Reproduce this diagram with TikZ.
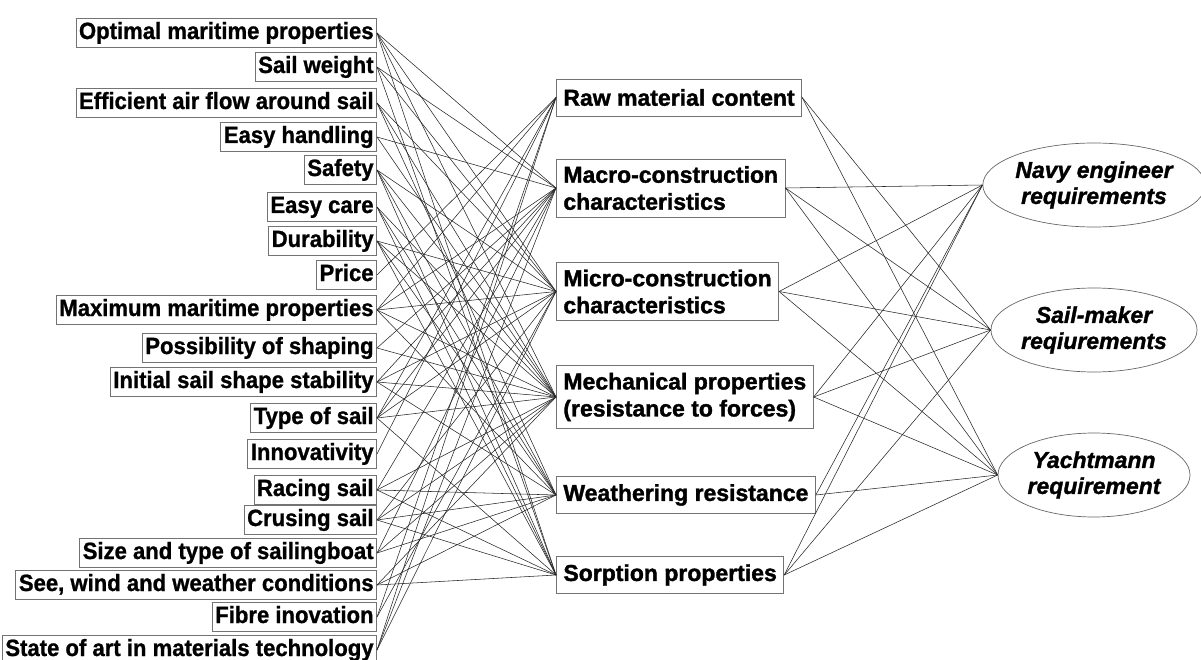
\documentclass[tikz,border=0pt]{standalone}
\usepackage{fontspec}
\setmainfont{Liberation Sans}
\newfontfamily\leftfont{Liberation Sans Bold}[FakeBold=1.0, FakeStretch=0.94]
\newfontfamily\midfont{Liberation Sans Bold}[FakeBold=1.5]
\newfontfamily\rightfont{Liberation Sans Bold Italic}[FakeBold=1.3]
\usetikzlibrary{shapes.geometric}
\begin{document}
\begin{tikzpicture}[x=1pt,y=-1pt,
  lbox/.style={draw=black!55, line width=0.8pt, anchor=east,
    font=\leftfont\fontsize{23.5}{26}\selectfont,
    inner xsep=3pt, inner ysep=3.5pt, text height=17pt, text depth=5pt},
  mbox/.style={draw=black!55, line width=0.8pt, anchor=west, align=left,
    font=\midfont\fontsize{23}{27}\selectfont,
    inner xsep=7pt, inner ysep=7pt, minimum height=37pt},
  rell/.style={draw=black!60, line width=0.7pt, ellipse,
    minimum width=192pt, minimum height=84pt, inner sep=0pt, align=center,
    font=\rightfont\fontsize{23}{26}\selectfont},
  conn/.style={draw=black!85, line width=0.55pt}]
\useasboundingbox (0,0) rectangle (1201,660);

% left column
\node[lbox] (L1)  at (377,33)  {Optimal maritime properties\hspace{7pt}};
\node[lbox] (L2)  at (377,67)  {Sail weight};
\node[lbox] (L3)  at (377,103) {Efficient air flow around sail};
\node[lbox] (L4)  at (377,137) {Easy handling};
\node[lbox] (L5)  at (377,170) {Safety};
\node[lbox] (L6)  at (377,207) {Easy care};
\node[lbox] (L7)  at (377,241) {Durability};
\node[lbox] (L8)  at (377,275) {Price};
\node[lbox] (L9)  at (377,310) {Maximum maritime properties};
\node[lbox] (L10) at (377,348) {Possibility of shaping};
\node[lbox] (L11) at (377,382) {Initial sail shape stability};
\node[lbox] (L12) at (377,418) {Type of sail};
\node[lbox] (L13) at (377,454) {Innovativity};
\node[lbox] (L14) at (377,490) {Racing sail};
\node[lbox] (L15) at (377,520) {Crusing sail};
\node[lbox] (L16) at (377,553) {Size and type of sailingboat};
\node[lbox] (L17) at (377,585) {See, wind and weather conditions};
\node[lbox] (L18) at (377,617) {Fibre inovation};
\node[lbox] (L19) at (377,650) {State of art in materials technology};

% middle column
\node[mbox] (M1) at (556,97.5) {Raw material content};
\node[mbox] (M2) at (556,188)  {Macro-construction\\characteristics};
\node[mbox] (M3) at (556,291.5){Micro-construction\\characteristics};
\node[mbox] (M4) at (556,397)  {Mechanical properties\\(resistance to forces)};
\node[mbox] (M5) at (556,495)  {Weathering resistance};
\node[mbox] (M6) at (556,575)  {Sorption properties};

% right column
\node[rell] (R1) at (1094,185) {Navy engineer\\requirements};
\node[rell] (R2) at (1094,330) {Sail-maker\\reqiurements};
\node[rell] (R3) at (1094,475) {Yachtmann\\requirement};

% connectors left -> middle
\foreach \a/\b in {L1/M2,L1/M3,L1/M4,L1/M6,
  L2/M2,L2/M3,L2/M6,
  L3/M3,L3/M4,L3/M5,
  L4/M2,L4/M4,
  L5/M3,L5/M4,L5/M5,L5/M6,
  L6/M4,L6/M5,L6/M6,
  L7/M3,L7/M4,L7/M5,L7/M6,
  L8/M1,
  L9/M1,L9/M2,L9/M3,L9/M4,L9/M5,
  L10/M2,L10/M4,
  L11/M2,L11/M3,L11/M4,L11/M5,
  L12/M1,L12/M2,L12/M3,L12/M4,L12/M6,
  L13/M1,
  L14/M2,L14/M4,L14/M5,L14/M6,
  L15/M3,L15/M4,L15/M5,L15/M6,
  L16/M2,L16/M4,L16/M5,
  L17/M4,L17/M5,L17/M6,
  L18/M1,L18/M3,
  L19/M1,L19/M2,L19/M3}
  \draw[conn] (\a.east) -- (\b.west);

% connectors middle -> right
\foreach \a/\b in {M1/R2,M1/R3,
  M2/R1,M2/R2,M2/R3,
  M3/R1,M3/R2,M3/R3,
  M4/R1,M4/R2,M4/R3,
  M5/R1,M5/R3,
  M6/R1,M6/R2,M6/R3}
  \draw[conn] (\a.east) -- (\b.west);
\end{tikzpicture}
\end{document}
